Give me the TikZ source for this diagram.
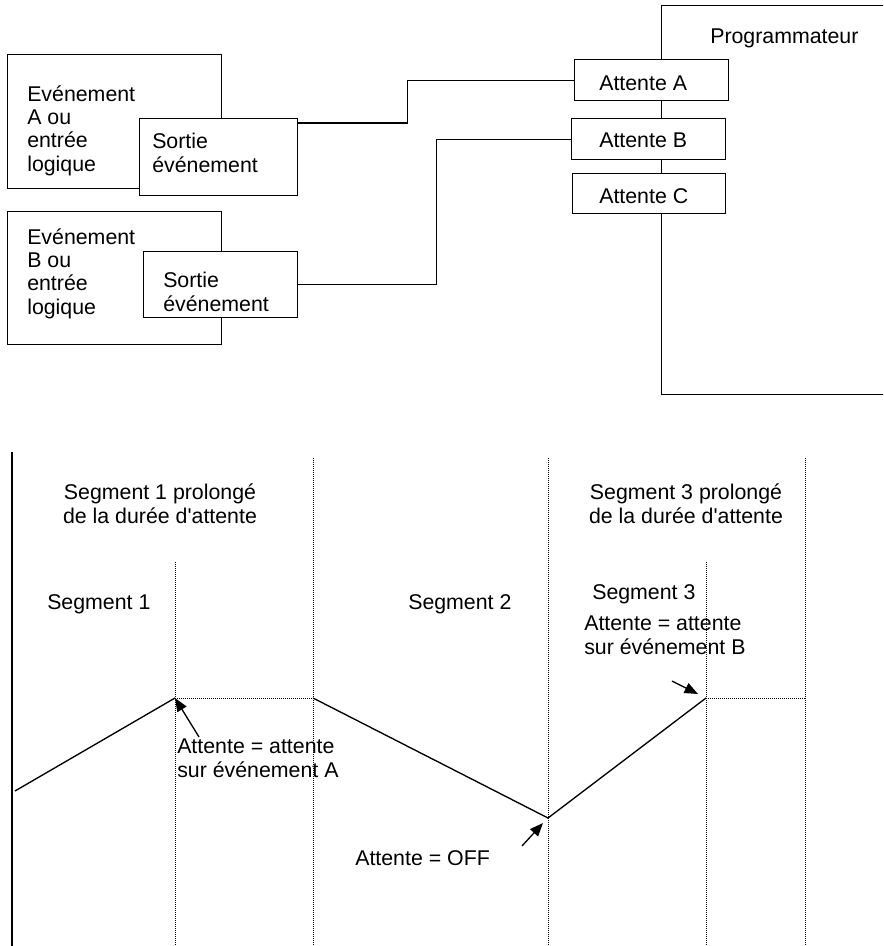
\documentclass[tikz,border=0pt]{standalone}
\usepackage{fontspec}
\setmainfont{Liberation Sans}
\usetikzlibrary{arrows.meta}
\begin{document}
\begin{tikzpicture}[x=0.75pt,y=-0.75pt,
  box/.style={draw=black,line width=1pt,fill=white,inner sep=0pt,anchor=north west},
  txt/.style={inner sep=0pt,anchor=base west,align=left,font=\fontsize{16pt}{17.5pt}\selectfont},
  link/.style={draw=black,line width=1pt},
  guide/.style={line width=0.7pt,dash pattern=on 0.75pt off 0.75pt},
  profile/.style={line width=1pt,line join=miter},
  pointer/.style={line width=1pt,-{Triangle[length=10pt,width=8pt]}}
]
\clip (0,0) rectangle (883,946);

% ---- event sources (multi-line labels are placed by their last baseline)
\node[box,minimum width=160.5pt,minimum height=100.5pt] (evA) at (7,54) {};
\node[txt] (evAt) at (27,171) {Evénement\\A ou\\entrée\\logique};
\node[box,minimum width=118.5pt,minimum height=57.75pt] (sA) at (139,118) {};
\node[txt] (sAt) at (152,172) {Sortie\\événement};

\node[box,minimum width=160.5pt,minimum height=99.75pt] (evB) at (7,211) {};
\node[txt] (evBt) at (27,314) {Evénement\\B ou\\entrée\\logique};
\node[box,minimum width=115.5pt,minimum height=49.5pt] (sB) at (143,251) {};
\node[txt] (sBt) at (163,311) {Sortie\\événement};

% ---- programmer with its wait inputs
\node[box,minimum width=240pt,minimum height=291.75pt] (prog) at (661,5) {};
\node[txt] (progt) at (710,43) {Programmateur};

\node[box,minimum width=115.5pt,minimum height=30.75pt] (aA) at (574,59) {};
\node[txt] (aAt) at (599,90) {Attente A};
\node[box,minimum width=115.5pt,minimum height=30.75pt] (aB) at (571,118) {};
\node[txt] (aBt) at (599,147) {Attente B};
\node[box,minimum width=114.75pt,minimum height=30pt] (aC) at (572,173) {};
\node[txt] (aCt) at (599,203) {Attente C};

% ---- wiring
\draw[link] ([yshift=-3.75pt]sA.north east) -- ++(109,0) |- (aA.west);
\draw[link] (sB.east) -- ++(138,0) |- (aB.west);

% ---- time chart: axis and segment limits
\draw[line width=1pt] (12,452) -- (12,946);
\foreach \x in {313,548,805} \draw[guide] (\x,458) -- (\x,946);
\foreach \x in {175,706} \draw[guide] (\x,562) -- (\x,946);

% ---- setpoint profile
\coordinate (p0) at (15,791);
\coordinate (p1) at (175,698);
\coordinate (p2) at (313,698);
\coordinate (p3) at (548,818);
\coordinate (p4) at (706,698);
\coordinate (p5) at (805,698);
\draw[profile] (p0) -- (p1);
\draw[guide] (p1) -- (p2);
\draw[profile] (p2) -- (p3) -- (p4);
\draw[guide] (p4) -- (p5);

% ---- pointers
\coordinate (qA) at (199,737);
\draw[pointer] (qA) -- (p1);
\coordinate (qOff) at (522,846);
\coordinate (tOff) at (543,823);
\draw[pointer] (qOff) -- (tOff);
\coordinate (qB) at (672,681);
\coordinate (tB) at (698,694);
\draw[pointer] (qB) -- (tB);

% ---- chart labels
\node[txt,align=center,anchor=base] (seg1p) at (160,523) {Segment 1 prolongé\\de la durée d\textquotesingle attente};
\node[txt,align=center,anchor=base] (seg3p) at (686,523) {Segment 3 prolongé\\de la durée d\textquotesingle attente};
\node[txt] (seg1) at (47,609) {Segment 1};
\node[txt] (seg2) at (408,609) {Segment 2};
\node[txt] (seg3) at (592,599) {Segment 3};
\node[txt] (wB) at (584,654) {Attente = attente\\sur événement B};
\node[txt] (wA) at (177,777) {Attente = attente\\sur événement A};
\node[txt] (wOff) at (355,865) {Attente = OFF};
\end{tikzpicture}
\end{document}
